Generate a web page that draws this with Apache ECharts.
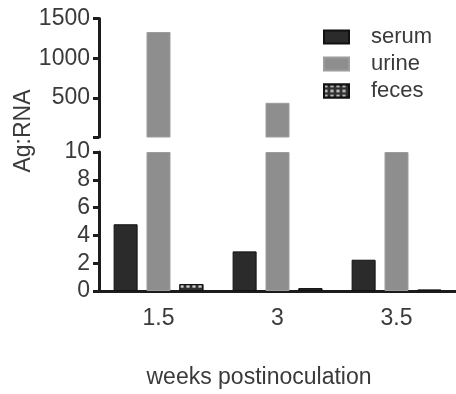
<html lang="en">
<head>
    <meta charset="UTF-8">
    <title>Ag:RNA</title>
    <style>
        html, body { margin: 0; padding: 0; background: #fff; }
        #echart { width: 456px; height: 394px; }
    </style>
</head>
<body>
<div id="echart"></div>
<script src="https://cdn.jsdelivr.net/npm/echarts@6/dist/echarts.min.js"></script>
<script>
    // data
    const categories = ['1.5', '3', '3.5']
    const serum = [4.8, 2.85, 2.25]
    const urine = [1330, 440, 10]
    const feces = [0.5, 0.2, 0.1]
    const upperTicks = [10, 500, 1000, 1500]
    const upperLabels = [500, 1000, 1500]
    const breakAt = 10

    const FONT = 'Liberation Sans, Arial, sans-serif'
    const TEXT = '#3a3a3a'
    const AXIS = '#1c1c1c'

    const styles = {
        serum: { color: '#2b2b2b', borderColor: '#111', borderWidth: 1 },
        urine: { color: '#8e8e8e', borderColor: '#9c9c9c', borderWidth: 1 },
        feces: {
            color: '#303030', borderColor: '#111', borderWidth: 1,
            decal: { symbol: 'rect', symbolSize: 0.8, color: 'rgba(225,225,225,0.9)', dashArrayX: [4, 2], dashArrayY: [3, 2] }
        }
    }
    const names = ['serum', 'urine', 'feces']
    const values = { serum, urine, feces }

    const lowerPart = v => Math.min(v, breakAt)
    const upperPart = v => v > breakAt ? v : '-'

    const series = []
    names.forEach(n => {
        series.push({
            name: n, type: 'bar', xAxisIndex: 0, yAxisIndex: 0,
            barWidth: 24, barGap: '37%',
            itemStyle: styles[n],
            data: values[n].map(upperPart)
        })
    })
    names.forEach(n => {
        series.push({
            name: n, type: 'bar', xAxisIndex: 1, yAxisIndex: 1,
            barWidth: 24, barGap: '37%',
            itemStyle: styles[n],
            data: values[n].map(lowerPart)
        })
    })

    const echart = echarts.init(document.getElementById('echart'))
    echart.setOption({
        animation: false,
        textStyle: { fontFamily: FONT },
        legend: {
            orient: 'vertical',
            left: 318, top: 21,
            icon: 'rect',
            itemWidth: 25, itemHeight: 13, itemGap: 5,
            textStyle: { fontSize: 22, color: TEXT, lineHeight: 22, padding: [0, 0, 0, 17] },
            data: names
        },
        grid: [
            { left: 99, width: 360, top: 18.5, height: 118.5 },
            { left: 99, width: 360, top: 152, height: 139 }
        ],
        xAxis: [
            { type: 'category', gridIndex: 0, data: categories, show: false },
            {
                type: 'category', gridIndex: 1, data: categories,
                axisLine: { lineStyle: { color: AXIS, width: 3 } },
                axisTick: { alignWithLabel: true, length: 5, lineStyle: { color: AXIS, width: 3 } },
                axisLabel: { fontSize: 23, color: TEXT, margin: 16 }
            }
        ],
        yAxis: [
            {
                type: 'value', gridIndex: 0, min: breakAt, max: 1500,
                splitLine: { show: false },
                axisLine: { show: true, lineStyle: { color: AXIS, width: 3 } },
                axisTick: { show: true, length: 6, customValues: upperTicks, lineStyle: { color: AXIS, width: 3 } },
                axisLabel: { fontSize: 23, color: TEXT, margin: 9, customValues: upperLabels, formatter: v => String(v) }
            },
            {
                type: 'value', gridIndex: 1, min: 0, max: 10, interval: 2,
                splitLine: { show: false },
                axisLine: { show: true, lineStyle: { color: AXIS, width: 3 } },
                axisTick: { show: true, length: 6, lineStyle: { color: AXIS, width: 3 } },
                axisLabel: { fontSize: 23, color: TEXT, margin: 9, formatter: v => String(v) }
            }
        ],
        graphic: [
            {
                type: 'text', x: 24, y: 131, rotation: Math.PI / 2,
                style: { text: 'Ag:RNA', font: '23px ' + FONT, fill: TEXT, align: 'center', verticalAlign: 'middle' }
            },
            {
                type: 'text', x: 259, y: 378,
                style: { text: 'weeks postinoculation', font: '23px ' + FONT, fill: TEXT, align: 'center', verticalAlign: 'middle' }
            }
        ],
        series: series
    })
</script>
</body>
</html>
